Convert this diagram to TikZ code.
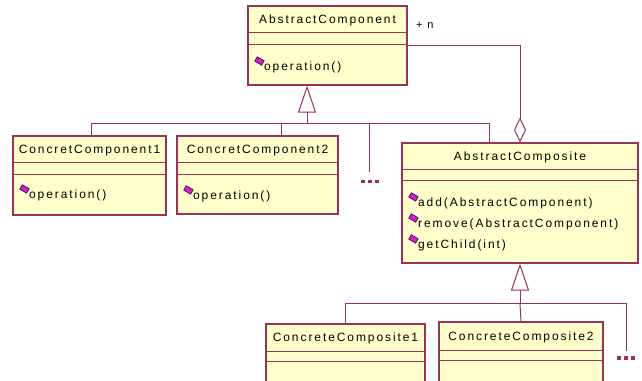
\documentclass[tikz,border=0pt]{standalone}
\usepackage{fontspec}
\newfontfamily\umlfont[LetterSpace=16]{Liberation Sans}
\usetikzlibrary{arrows.meta,calc}
\definecolor{umlfill}{HTML}{FFFFCC}
\definecolor{umlline}{HTML}{993355}
\definecolor{opicon}{HTML}{CC22CC}
\definecolor{opedge}{HTML}{550055}

\tikzset{
  classbox/.style={draw=umlline, fill=umlfill, line width=1.1pt, rectangle, inner sep=0pt},
  sepline/.style={draw=umlline, line width=1.1pt},
  umltext/.style={font=\umlfont\fontsize{12}{14}\selectfont, inner sep=0pt,
    text height=8.6pt, text depth=0pt},
  titletext/.style={umltext},
  optext/.style={umltext, anchor=west},
  opicon/.style={rectangle, rotate=-30, draw=opedge, fill=opicon, line width=0.7pt,
    inner sep=0pt, minimum width=8pt, minimum height=5pt},
  link/.style={draw=umlline, line width=1pt},
  genarrow/.style={link, -{Triangle[open, length=27pt, width=18pt, fill=white]}},
  aggarrow/.style={link, -{Diamond[open, length=25pt, width=12pt, fill=white]}},
  moredots/.style={text=umlline, inner sep=0pt},
  multtext/.style={font=\umlfont\fontsize{11}{13}\selectfont, inner sep=0pt}
}

% class box: name, left x, top y, width, height, title height, attribute height, title
\newcommand\umlclass[8]{%
  \node[classbox, minimum width=#4pt, minimum height=#5pt] (#1) at ({#2+#4/2},{#3+#5/2}) {};
  \draw[sepline] ([yshift=-#6pt]#1.north west) -- ([yshift=-#6pt]#1.north east);
  \draw[sepline] ([yshift=-#6pt-#7pt]#1.north west) -- ([yshift=-#6pt-#7pt]#1.north east);
  \node[titletext] (#1-title) at ([yshift=-#6pt/2]#1.north) {#8};
}
% operation line: node name, class, offset from the top, text
\newcommand\umlop[4]{%
  \node[opicon] (#1-icon) at ([xshift=12pt, yshift=-#3pt+5.5pt]#2.north west) {};
  \node[optext] (#1) at ([xshift=16.5pt, yshift=-#3pt]#2.north west) {#4};
}
\newcommand\dotsquares{\rule{3.5pt}{3.5pt}\hspace{3.5pt}\rule{3.5pt}{3.5pt}\hspace{3.5pt}\rule{3.5pt}{3.5pt}}

\begin{document}
\begin{tikzpicture}[x=1pt, y=-1pt]
\useasboundingbox (0,0) rectangle (642,380);
\clip (0,0) rectangle (642,380);

% classes
\umlclass{ac}{248}{6}{159}{79}{27}{12}{AbstractComponent}
\umlclass{cc1}{13}{136}{153}{79}{27}{12}{ConcretComponent1}
\umlclass{cc2}{177}{136}{161}{78}{27}{12}{ConcretComponent2}
\umlclass{aco}{402}{143}{236}{120}{27}{11}{AbstractComposite}
\umlclass{cco1}{266}{324}{159}{80}{28}{10}{ConcreteComposite1}
\umlclass{cco2}{439}{322}{164}{80}{29}{10}{ConcreteComposite2}

% operations
\umlop{ac-op}{ac}{61}{operation()}
\umlop{cc1-op}{cc1}{59}{operation()}
\umlop{cc2-op}{cc2}{60}{operation()}
\umlop{aco-add}{aco}{60}{add(AbstractComponent)}
\umlop{aco-rem}{aco}{81}{remove(AbstractComponent)}
\umlop{aco-get}{aco}{102}{getChild(int)}

% markers for further subclasses
\node[moredots] (dots1) at (370,181.5) {\dotsquares};
\node[moredots] (dots2) at (626,358) {\dotsquares};

% inheritance from AbstractComponent
\coordinate (tip1) at ([xshift=-20.5pt]ac.south);
\coordinate (bus1) at ([yshift=-38pt]tip1);
\draw[genarrow] (bus1) -- (tip1);
\draw[link] ([xshift=1.5pt]cc1.north) |- (bus1);
\draw[link] ([xshift=23.5pt]cc2.north) |- (bus1);
\draw[link] ([xshift=-1pt, yshift=7.5pt]dots1.north) |- (bus1);
\draw[link] ([xshift=-31pt]aco.north) |- (bus1);

% aggregation of children
\draw[aggarrow] (ac.east) -| (aco.north);
\node[multtext, anchor=west] (mult) at (416,25) {+ n};

% inheritance from AbstractComposite
\coordinate (bus2) at ([yshift=-40pt]aco.south);
\draw[genarrow] (bus2) -- (aco.south);
\draw[link] (cco1.north) |- (bus2);
\draw[link] (cco2.north) -- (bus2);
\draw[link] ([yshift=5pt]dots2.north) |- (bus2);
\end{tikzpicture}
\end{document}
